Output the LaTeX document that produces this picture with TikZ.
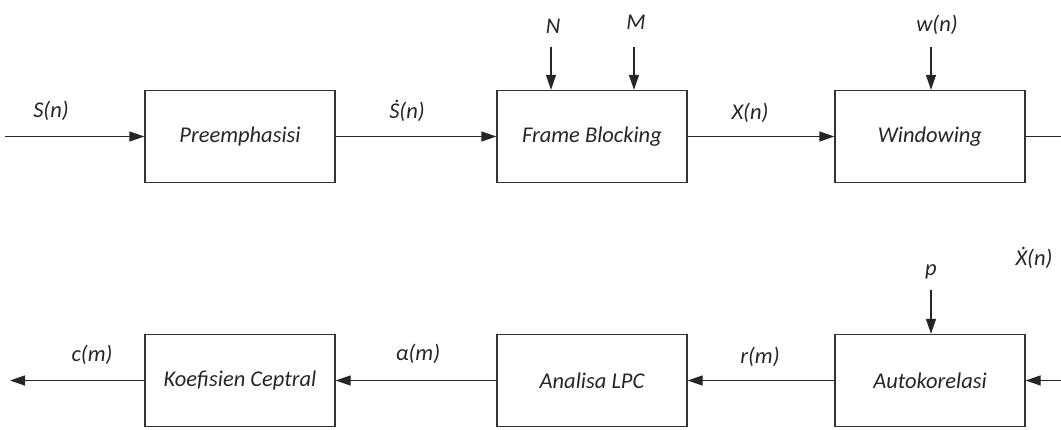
\documentclass[tikz,border=0pt]{standalone}
\usepackage{fontspec}
\setmainfont{Carlito}
\usetikzlibrary{arrows.meta}
\begin{document}
\begin{tikzpicture}[x=1pt,y=-1pt,
  blk/.style={draw=black!80,line width=1.3pt,minimum width=190pt,minimum height=92pt,inner sep=0pt,font=\fontsize{22.5}{27}\selectfont\itshape,text=black!85},
  lbl/.style={font=\fontsize{22.5}{27}\selectfont\itshape,inner sep=0pt,text=black!85},
  conn/.style={draw=black!85,line width=1.3pt},
  arr/.style={conn,-{Triangle[length=15pt,width=10pt]}}]
\useasboundingbox (0,0) rectangle (1061,429);
\node[blk] (pre) at (240,136.5) {Preemphasisi};
\node[blk] (fb) at (592,136.5) {Frame Blocking};
\node[blk] (win) at (930,136.5) {Windowing};
\node[blk] (auto) at (930,380.5) {Autokorelasi};
\node[blk] (lpc) at (592,380.5) {Analisa LPC};
\node[blk] (kc) at (240,380.5) {Koefisien Ceptral};
\coordinate (in) at (5,136.5);
\coordinate (out1) at (1061,136.5);
\coordinate (in2) at (1061,380.5);
\coordinate (out) at (10,380.5);
\coordinate (nN) at (551,47);
\coordinate (nM) at (634,47);
\coordinate (nW) at (931,47);
\coordinate (nP) at (931,290);
\draw[arr] (in) -- (pre);
\draw[arr] (pre) -- (fb);
\draw[arr] (fb) -- (win);
\draw[conn] (win) -- (out1);
\draw[arr] (in2) -- (auto);
\draw[arr] (auto) -- (lpc);
\draw[arr] (lpc) -- (kc);
\draw[arr] (kc) -- (out);
\draw[arr] (nN) -- (nN |- fb.north);
\draw[arr] (nM) -- (nM |- fb.north);
\draw[arr] (nW) -- (nW |- win.north);
\draw[arr] (nP) -- (nP |- auto.north);
\node[lbl] (lS) at (51,111) {S(n)};
\node[lbl] (lSd) at (407,111) {Ṡ(n)};
\node[lbl] (lX) at (750,113) {X(n)};
\node[lbl] (lN) at (553,26) {N};
\node[lbl] (lM) at (636,22) {M};
\node[lbl] (lw) at (937,25) {w(n)};
\node[lbl] (lp) at (931,272) {p};
\node[lbl] (lXd) at (1034,258) {Ẋ(n)};
\node[lbl] (lc) at (92,355) {c(m)};
\node[lbl] (la) at (418,354) {α(m)};
\node[lbl] (lr) at (760,357) {r(m)};
\end{tikzpicture}
\end{document}
